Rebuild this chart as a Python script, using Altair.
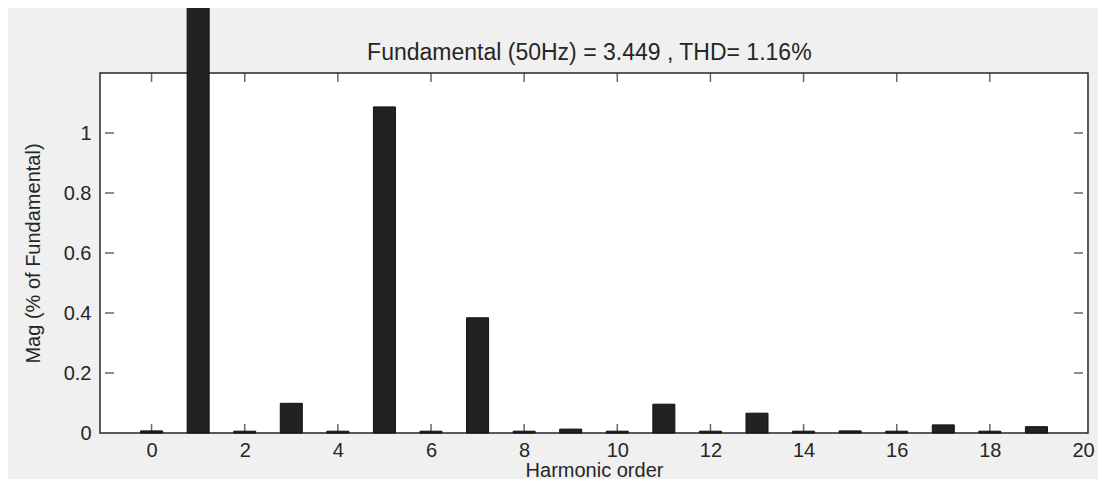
import altair as alt
import pandas as pd

# Harmonic spectrum (% of fundamental); fundamental = 100 % (overflows the axes)
harmonics = list(range(0, 20))
magnitudes = [0.007, 100.0, 0.006, 0.099, 0.006, 1.087, 0.006, 0.384, 0.006, 0.013,
              0.006, 0.096, 0.006, 0.066, 0.006, 0.007, 0.006, 0.027, 0.006, 0.021]

x_ticks = [0, 2, 4, 6, 8, 10, 12, 14, 16, 18, 20]
y_ticks = [0, 0.2, 0.4, 0.6, 0.8, 1]
x_inner_ticks = [0, 2, 4, 6, 8, 10, 12, 14, 16, 18]
y_inner_ticks = [0.2, 0.4, 0.6, 0.8, 1.0]

title_text = "Fundamental (50Hz) = 3.449 , THD= 1.16%"
FONT = "Liberation Sans"
TXT = "#262626"

df = pd.DataFrame({"h": harmonics, "mag": magnitudes})
xt = pd.DataFrame({"x": x_inner_ticks})
yt = pd.DataFrame({"y": y_inner_ticks})
tt = pd.DataFrame({"label": [title_text]})

xscale = alt.Scale(domain=[-1, 20], nice=False, zero=False)
yscale = alt.Scale(domain=[0, 1.2], nice=False, zero=False)

xaxis = alt.Axis(values=x_ticks, ticks=False, domain=False, grid=False,
                 labelFont=FONT, labelFontSize=20, labelColor=TXT, labelPadding=7,
                 title="Harmonic order", titleFont=FONT, titleFontSize=20,
                 titleFontWeight="normal", titleColor=TXT, titlePadding=0)
yaxis = alt.Axis(values=y_ticks, format="~g", ticks=False, domain=False, grid=False,
                 labelFont=FONT, labelFontSize=20, labelColor=TXT, labelPadding=9,
                 title="Mag (% of Fundamental)", titleFont=FONT, titleFontSize=20,
                 titleFontWeight="normal", titleColor=TXT, titlePadding=20)

bars = alt.Chart(df).mark_bar(size=22, color="#222222", stroke="#111111",
                              strokeWidth=1, clip=False).encode(
    x=alt.X("h:Q", scale=xscale, axis=xaxis),
    y=alt.Y("mag:Q", scale=yscale, axis=yaxis),
)

tick_style = dict(color=TXT, thickness=1.5, size=9)
bottom_ticks = alt.Chart(xt).mark_tick(orient="vertical", yOffset=-4.5, **tick_style).encode(
    x=alt.X("x:Q", scale=xscale), y=alt.datum(0, scale=yscale))
top_ticks = alt.Chart(xt).mark_tick(orient="vertical", yOffset=4.5, **tick_style).encode(
    x=alt.X("x:Q", scale=xscale), y=alt.datum(1.2, scale=yscale))
left_ticks = alt.Chart(yt).mark_tick(orient="horizontal", xOffset=4.5, **tick_style).encode(
    y=alt.Y("y:Q", scale=yscale), x=alt.datum(-1, scale=xscale))
right_ticks = alt.Chart(yt).mark_tick(orient="horizontal", xOffset=-4.5, **tick_style).encode(
    y=alt.Y("y:Q", scale=yscale), x=alt.datum(20, scale=xscale))

title_layer = alt.Chart(tt).mark_text(font=FONT, fontSize=23, color=TXT, align="center",
                                      baseline="alphabetic", yOffset=-13, clip=False).encode(
    x=alt.datum(9.4, scale=xscale), y=alt.datum(1.2, scale=yscale), text="label:N")

chart = alt.layer(bottom_ticks, top_ticks, left_ticks, right_ticks, bars, title_layer).properties(
    width=988,
    height=360,
    background="#f0f0f0",
    autosize=alt.AutoSizeParams(type="none"),
    padding={"left": 92, "top": 65, "right": 10, "bottom": 46},
).configure_view(
    fill="white", stroke="#262626", strokeWidth=1.5
)

chart.save("out.html", embed_options={"renderer": "svg", "actions": False})
